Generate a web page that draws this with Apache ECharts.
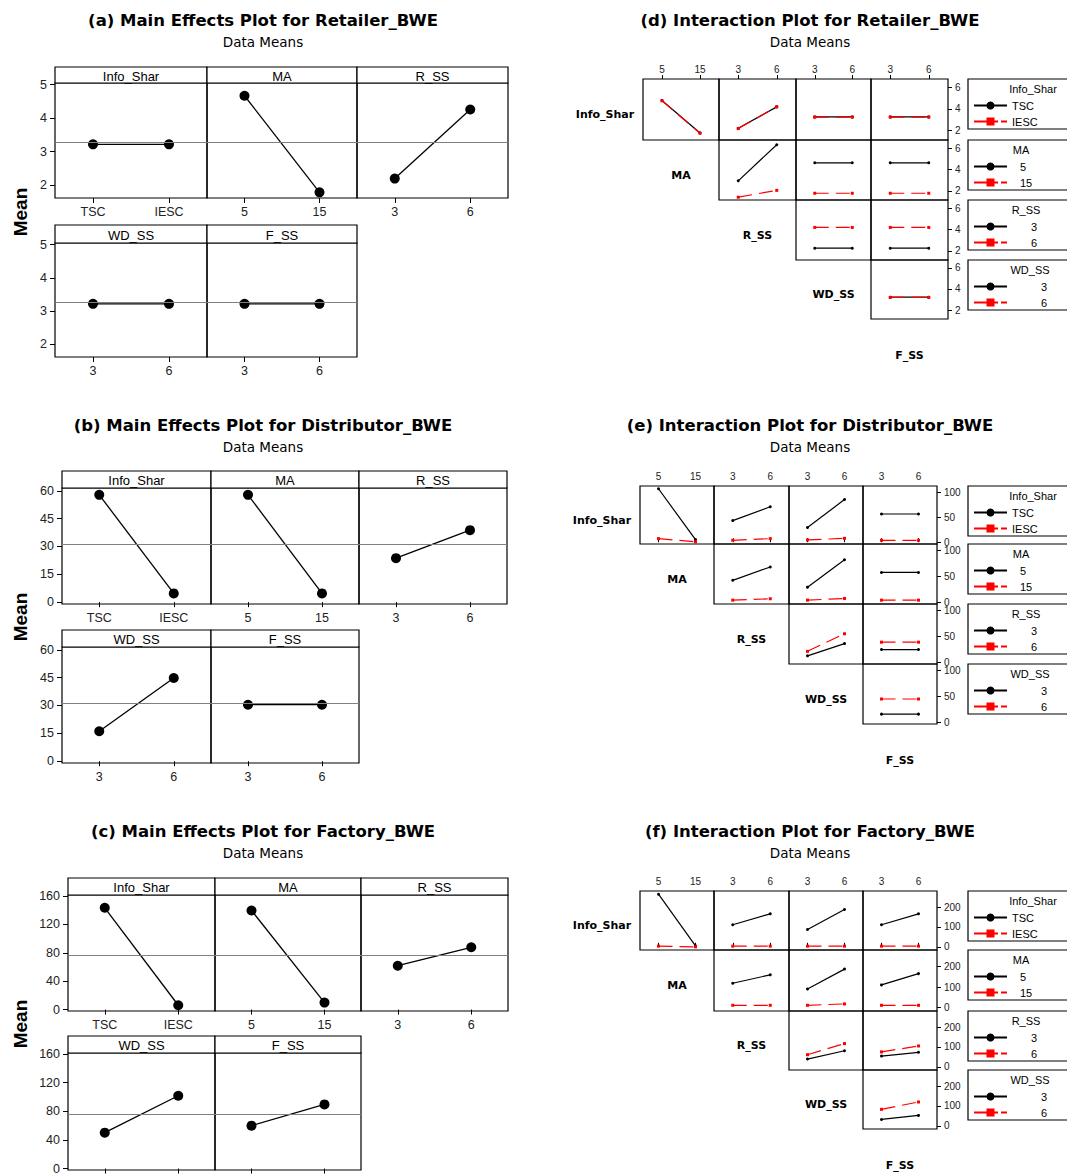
<!DOCTYPE html>
<html>
<head>
<meta charset="utf-8">
<title>Main effects and interaction plots for BWE</title>
<script src="https://cdn.jsdelivr.net/npm/echarts@6.0.0/dist/echarts.min.js"></script>
<style>
  html, body { margin: 0; padding: 0; background: #fff; }
  #main { width: 1067px; height: 1176px; }
</style>
</head>
<body>
<div id="main"></div>
<script>
// ---- data ----
const factors = ['Info_Shar', 'MA', 'R_SS', 'WD_SS', 'F_SS'];
const infoLevels = ['TSC', 'IESC'];
const maLevels = ['5', '15'];
const ssLevels = ['3', '6'];
const factorLevels = [infoLevels, maLevels, ssLevels, ssLevels, ssLevels];

const mainTitles = [
  '(a) Main Effects Plot for Retailer_BWE',
  '(b) Main Effects Plot for Distributor_BWE',
  '(c) Main Effects Plot for Factory_BWE'
];
const interTitles = [
  '(d) Interaction Plot for Retailer_BWE',
  '(e) Interaction Plot for Distributor_BWE',
  '(f) Interaction Plot for Factory_BWE'
];

// main effects: [mean at first level, mean at second level] per factor
const retailerMeans = [[3.22, 3.22], [4.67, 1.79], [2.20, 4.26], [3.22, 3.22], [3.22, 3.22]];
const distributorMeans = [[57.8, 4.7], [57.8, 4.7], [23.7, 38.8], [16.1, 44.8], [30.4, 30.4]];
const factoryMeans = [[143.5, 6.1], [139.7, 9.9], [61.8, 87.8], [50.2, 101.8], [60.0, 89.6]];
const grandMeans = [3.28, 31.3, 76.0];
const mainTicks = [[2, 3, 4, 5], [0, 15, 30, 45, 60], [0, 40, 80, 120, 160]];
const mainRanges = [[1.62, 5.05], [-1, 61.5], [-2, 161.5]];

// interaction means, factor pairs in order:
// IS-MA, IS-R, IS-WD, IS-F, MA-R, MA-WD, MA-F, R-WD, R-F, WD-F
// each: [row factor level 1 [x lo, x hi], row factor level 2 [x lo, x hi]]
const retailerInter = [
  [[4.78, 1.80], [4.75, 1.77]],
  [[2.22, 4.19], [2.20, 4.21]],
  [[3.27, 3.27], [3.25, 3.25]],
  [[3.27, 3.27], [3.25, 3.25]],
  [[2.94, 6.31], [1.41, 2.05]],
  [[4.62, 4.62], [1.78, 1.78]],
  [[4.62, 4.62], [1.78, 1.78]],
  [[2.25, 2.25], [4.19, 4.19]],
  [[2.25, 2.25], [4.19, 4.19]],
  [[3.22, 3.22], [3.20, 3.20]]
];
const distributorInter = [
  [[106.5, 5.2], [7.2, 0.7]],
  [[43.1, 70.6], [3.9, 7.2]],
  [[29.4, 85.0], [4.6, 7.8]],
  [[56.2, 56.2], [3.9, 3.9]],
  [[42.1, 67.8], [3.9, 6.6]],
  [[28.9, 81.6], [3.9, 7.2]],
  [[57.2, 57.2], [3.9, 3.9]],
  [[12.2, 35.8], [20.9, 54.7]],
  [[24.3, 24.3], [38.5, 38.5]],
  [[15.5, 15.5], [44.6, 44.6]]
];
const factoryInter = [
  [[265, 5], [3.4, 0]],
  [[111, 166], [3.4, 3.4]],
  [[87, 188], [3.4, 3.4]],
  [[111, 166], [3.4, 3.4]],
  [[119, 160], [11.8, 11.8]],
  [[91, 188], [11.8, 18.5]],
  [[111, 166], [11.8, 11.8]],
  [[39, 81], [61, 117]],
  [[54, 73], [75, 105]],
  [[32, 52.5], [83, 120]]
];
const interTicks = [[2, 4, 6], [0, 50, 100], [0, 100, 200]];
const interRanges = [[1.15, 6.75], [-3.5, 112], [-16, 281]];

// ---- layout (pixels) ----
const PAGE_H = 1176;
const mainLayouts = [
  { x: [55, 207, 357, 508], rows: [[67, 83, 198], [225, 243, 357]], cy: 20 },
  { x: [62, 211, 359, 507], rows: [[471, 488, 604], [630, 647, 763]], cy: 425 },
  { x: [68, 215, 361, 508], rows: [[878, 895, 1011], [1036, 1053, 1170]], cy: 831 }
];
const interLayouts = [
  { cols: [643, 719, 796, 871, 948], rows: [79, 140, 200, 260, 319], cy: 20 },
  { cols: [640, 714, 789, 863, 937], rows: [486, 544, 604, 664, 724], cy: 425 },
  { cols: [640, 714, 789, 863, 937], rows: [891, 950, 1011, 1070, 1129], cy: 831 }
];
const legendTitleX = [1033, 1021, 1026, 1030];
const legendTextPad = [0, 8, 19, 29];

const SMALL = "'Liberation Sans', Arial, sans-serif";
const WIDE = "'DejaVu Sans', Verdana, sans-serif";
const RED = '#ff0000';

const chart = echarts.init(document.getElementById('main'), null, { renderer: 'svg' });
const option = {
  animation: false,
  backgroundColor: '#fff',
  grid: [], xAxis: [], yAxis: [], series: [], legend: [], graphic: []
};

function label(text, x, y, size, weight, family, rotation) {
  option.graphic.push({
    type: 'text', x: x, y: y, rotation: rotation || 0, silent: true, z: 100,
    style: {
      text: text, fill: '#000', fontSize: size, fontWeight: weight, fontFamily: family,
      align: 'center', verticalAlign: 'middle'
    }
  });
}

function addGrid(left, top, width, height) {
  option.grid.push({
    left: left, top: top, width: width, height: height,
    containLabel: false, outerBoundsMode: 'none',
    show: true, borderColor: '#000', borderWidth: 1.2, backgroundColor: 'transparent'
  });
  return option.grid.length - 1;
}

function addMainPanel(ci, f, means) {
  const lay = mainLayouts[ci];
  const row = f < 3 ? 0 : 1;
  const col = f < 3 ? f : f - 3;
  const stripTop = lay.rows[row][0], top = lay.rows[row][1], bottom = lay.rows[row][2];
  const left = lay.x[col], right = lay.x[col + 1];
  const g = addGrid(left, top, right - left, bottom - top);
  // labels of the last row of (c) fall below the page, as in the original
  const labelsFit = bottom + 14 < PAGE_H;
  option.xAxis.push({
    gridIndex: g, type: 'category', data: factorLevels[f], boundaryGap: true,
    axisLine: { show: false },
    axisTick: { show: true, alignWithLabel: true, length: 5, lineStyle: { color: '#000' } },
    axisLabel: { show: labelsFit, fontSize: 12.5, fontFamily: SMALL, color: '#222', margin: 7 },
    splitLine: { show: false }
  });
  option.yAxis.push({
    gridIndex: g, type: 'value', min: mainRanges[ci][0], max: mainRanges[ci][1],
    axisLine: { show: false },
    axisTick: { show: col === 0, length: 5, customValues: mainTicks[ci], lineStyle: { color: '#000' } },
    axisLabel: { show: col === 0, customValues: mainTicks[ci], fontSize: 12.5, fontFamily: SMALL, color: '#222', margin: 8 },
    splitLine: { show: false }
  });
  option.series.push({
    type: 'line', name: factors[f] + ' mean', xAxisIndex: g, yAxisIndex: g,
    data: means[f], symbol: 'circle', symbolSize: 10, color: '#000',
    lineStyle: { color: '#000', width: 1.3 },
    markLine: {
      silent: true, symbol: 'none', label: { show: false },
      lineStyle: { color: '#808080', width: 1, type: 'solid' },
      data: [{ yAxis: grandMeans[ci] }]
    },
    z: 3
  });
  option.graphic.push({
    type: 'rect', silent: true, z: 50,
    shape: { x: left, y: stripTop, width: right - left, height: top - stripTop },
    style: { fill: '#fff', stroke: '#000', lineWidth: 1.2 }
  });
  label(factors[f], (left + right) / 2, (stripTop + top) / 2 + 1, 13, 'normal', SMALL);
}

function addMainChart(ci, means) {
  const lay = mainLayouts[ci];
  label(mainTitles[ci], 263, lay.cy, 16.5, 'bold', WIDE);
  label('Data Means', 263, lay.cy + 22, 13.5, 'normal', WIDE);
  label('Mean', 20, (lay.rows[0][0] + lay.rows[1][2]) / 2, 19, 'bold', SMALL, Math.PI / 2);
  for (let f = 0; f < factors.length; f++) addMainPanel(ci, f, means);
}

function addInterChart(ci, inter) {
  const lay = interLayouts[ci];
  label(interTitles[ci], 810, lay.cy, 16.5, 'bold', WIDE);
  label('Data Means', 810, lay.cy + 22, 13.5, 'normal', WIDE);
  let k = 0;
  for (let i = 0; i < 4; i++) {
    for (let j = i + 1; j < 5; j++) {
      const c = j - 1, r = i;
      const left = lay.cols[c], right = lay.cols[c + 1];
      const top = lay.rows[r], bottom = lay.rows[r + 1];
      const g = addGrid(left, top, right - left, bottom - top);
      option.xAxis.push({
        gridIndex: g, type: 'category', position: 'top', data: factorLevels[j], boundaryGap: true,
        axisLine: { show: false },
        axisTick: { show: r === 0, alignWithLabel: true, length: 4, lineStyle: { color: '#000' } },
        axisLabel: { show: r === 0, fontSize: 10, fontFamily: SMALL, color: '#222', margin: 5 },
        splitLine: { show: false }
      });
      option.yAxis.push({
        gridIndex: g, type: 'value', position: 'right',
        min: interRanges[ci][0], max: interRanges[ci][1],
        axisLine: { show: false },
        axisTick: { show: c === 3, length: 4, customValues: interTicks[ci], lineStyle: { color: '#000' } },
        axisLabel: {
          show: c === 3, customValues: interTicks[ci], fontSize: 10, lineHeight: 8,
          fontFamily: SMALL, color: '#222', margin: 7
        },
        splitLine: { show: false }
      });
      option.series.push({
        type: 'line', name: factorLevels[i][0], xAxisIndex: g, yAxisIndex: g,
        data: inter[k][0], symbol: 'circle', symbolSize: 3, color: '#000',
        lineStyle: { color: '#000', width: 1.2, type: 'solid' }
      });
      option.series.push({
        type: 'line', name: factorLevels[i][1], xAxisIndex: g, yAxisIndex: g,
        data: inter[k][1], symbol: 'rect', symbolSize: 3, color: RED,
        lineStyle: { color: RED, width: 1.2, type: [14, 7] }
      });
      k++;
    }
    // legend box for the row factor
    const top = lay.rows[i];
    option.legend.push({
      orient: 'vertical', left: 968, top: top,
      padding: [21, 120, 2, 5], itemWidth: 33, itemHeight: 10, itemGap: 5,
      borderColor: '#000', borderWidth: 1.2, backgroundColor: '#fff',
      selectedMode: false,
      data: [
        { name: factorLevels[i][0] },
        { name: factorLevels[i][1], lineStyle: { type: [24, 3] } }
      ],
      textStyle: { fontFamily: SMALL, fontSize: 11, color: '#000', padding: [0, 0, 0, legendTextPad[i]] }
    });
    label(factors[i], legendTitleX[i], top + 10, 11, 'normal', SMALL);
  }
  // row labels on the diagonal
  for (let r = 0; r < 5; r++) {
    const cx = r === 0 ? lay.cols[0] - 38 : (lay.cols[r - 1] + lay.cols[r]) / 2;
    const cy = r < 4 ? (lay.rows[r] + lay.rows[r + 1]) / 2 + 5 : lay.rows[4] + 36;
    label(factors[r], cx, cy, 11, 'bold', WIDE);
  }
}

addMainChart(0, retailerMeans);
addMainChart(1, distributorMeans);
addMainChart(2, factoryMeans);
addInterChart(0, retailerInter);
addInterChart(1, distributorInter);
addInterChart(2, factoryInter);

chart.setOption(option);
</script>
</body>
</html>
